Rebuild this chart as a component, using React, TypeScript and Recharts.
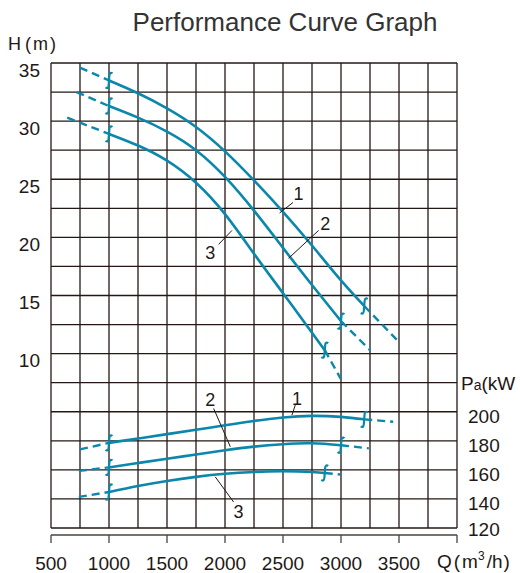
import { LineChart, Line, XAxis, YAxis, ReferenceLine, ReferenceDot } from "recharts";

const BLUE = "#0a87ab";
const INK = "#231815";
const FONT = '"Liberation Sans", Arial, "Noto Sans CJK SC", sans-serif';

// grid
const gridQ = [500, 750, 1000, 1250, 1500, 1750, 2000, 2250, 2500, 2750, 3000, 3250, 3500, 3750, 4000];
const gridH = [-5, -2.5, 0, 2.5, 5, 7.5, 10, 12.5, 15, 17.5, 20, 22.5, 25, 27.5, 30, 32.5, 35];
const qTicks = [500, 1000, 1500, 2000, 2500, 3000, 3500, 4000];
const hTicks = [10, 15, 20, 25, 30, 35];
const pTicks = [120, 140, 160, 180, 200];

// head H (m), curves 1..3
const qHead1 = [1000, 1250, 1500, 1750, 2000, 2250, 2500, 2750, 3000, 3200];
const head1 = [33.5, 32.4, 31.1, 29.5, 27.4, 24.9, 22.2, 19.3, 16.3, 14.1];
const qHead1Lo = [750, 1000];
const head1Lo = [34.6, 33.5];
const qHead1Hi = [3200, 3480];
const head1Hi = [14.1, 11.2];

const qHead2 = [1000, 1250, 1500, 1750, 2000, 2250, 2500, 2750, 3000];
const head2 = [31.3, 30.3, 29.1, 27.5, 25.2, 22.3, 19.1, 15.9, 12.8];
const qHead2Lo = [720, 1000];
const head2Lo = [32.5, 31.3];
const qHead2Hi = [3000, 3250];
const head2Hi = [12.8, 10.3];

const qHead3 = [1000, 1250, 1500, 1750, 2000, 2250, 2500, 2750, 2860];
const head3 = [28.9, 27.9, 26.6, 24.7, 22.0, 18.6, 15.2, 11.8, 10.3];
const qHead3Lo = [640, 1000];
const head3Lo = [30.3, 28.9];
const qHead3Hi = [2860, 3000];
const head3Hi = [10.3, 7.8];

// shaft power Pa (kW), curves 1..3
const qPow1 = [1000, 1250, 1500, 1750, 2000, 2250, 2500, 2750, 3000, 3200];
const pow1 = [178.6, 181.6, 184.6, 187.6, 190.7, 193.7, 196.1, 197.2, 196.5, 194.8];
const qPow1Lo = [750, 1000];
const pow1Lo = [174.1, 178.6];
const qPow1Hi = [3200, 3450];
const pow1Hi = [194.8, 193.1];

const qPow2 = [1000, 1250, 1500, 1750, 2000, 2250, 2500, 2750, 3000];
const pow2 = [161.7, 164.7, 167.7, 170.6, 173.5, 176.0, 177.7, 178.3, 177.0];
const qPow2Lo = [740, 1000];
const pow2Lo = [159.3, 161.7];
const qPow2Hi = [3000, 3240];
const pow2Hi = [177.0, 174.8];

const qPow3 = [1000, 1250, 1500, 1750, 2000, 2250, 2500, 2750, 2860];
const pow3 = [144.8, 148.9, 152.4, 155.2, 157.3, 158.6, 159.1, 158.6, 157.9];
const qPow3Lo = [740, 1000];
const pow3Lo = [141.4, 144.8];
const qPow3Hi = [2860, 3000];
const pow3Hi = [157.9, 156.8];

const pts = (qs: number[], vs: number[]) => qs.map((q, i) => ({ q, v: vs[i] }));

const curves = [
  { id: "h1", axis: "h", solid: pts(qHead1, head1), lo: pts(qHead1Lo, head1Lo), hi: pts(qHead1Hi, head1Hi) },
  { id: "h2", axis: "h", solid: pts(qHead2, head2), lo: pts(qHead2Lo, head2Lo), hi: pts(qHead2Hi, head2Hi) },
  { id: "h3", axis: "h", solid: pts(qHead3, head3), lo: pts(qHead3Lo, head3Lo), hi: pts(qHead3Hi, head3Hi) },
  { id: "p1", axis: "p", solid: pts(qPow1, pow1), lo: pts(qPow1Lo, pow1Lo), hi: pts(qPow1Hi, pow1Hi) },
  { id: "p2", axis: "p", solid: pts(qPow2, pow2), lo: pts(qPow2Lo, pow2Lo), hi: pts(qPow2Hi, pow2Hi) },
  { id: "p3", axis: "p", solid: pts(qPow3, pow3), lo: pts(qPow3Lo, pow3Lo), hi: pts(qPow3Hi, pow3Hi) },
];

// little "ʃ" marks at both ends of the working range
function endMark(p: any, count: number) {
  const { cx, cy, index } = p;
  if (index !== 0 && index !== count - 1) return <g key={`m-${index}`} />;
  return (
    <path
      key={`m-${index}`}
      d={`M ${cx + 3.5} ${cy - 7} Q ${cx + 0.5} ${cy - 9} ${cx + 0.3} ${cy - 4} L ${cx - 0.3} ${cy + 4} Q ${cx - 0.5} ${cy + 9} ${cx - 3.5} ${cy + 7}`}
      fill="none"
      stroke={BLUE}
      strokeWidth={2.2}
    />
  );
}

function HTick({ y, payload }: any) {
  return (
    <text x={40} y={y + 7} textAnchor="end" dominantBaseline="central" fontSize={19} fill={INK} fontFamily={FONT}>
      {payload.value}
    </text>
  );
}

function PTick({ y, payload }: any) {
  return (
    <text x={468} y={y + (payload.value === 120 ? 1 : 5)} textAnchor="start" dominantBaseline="central" fontSize={19} fill={INK} fontFamily={FONT}>
      {payload.value}
    </text>
  );
}

function QTick({ x, payload }: any) {
  if (payload.value === 4000) {
    return (
      <text x={x - 20} y={568} fontSize={19} fill={INK} fontFamily={FONT}>
        Q<tspan dx={2}>(</tspan>
        <tspan dx={2}>m</tspan>
        <tspan dy={-8} fontSize={12}>3</tspan>
        <tspan dy={8} dx={2}>/h</tspan>
        <tspan dx={1}>)</tspan>
      </text>
    );
  }
  return (
    <text x={x} y={570} textAnchor="middle" fontSize={19} fill={INK} fontFamily={FONT}>
      {payload.value}
    </text>
  );
}

const numLabel = (value: string) => ({ value, position: "center" as const, fontSize: 18, fill: INK, fontFamily: FONT });

export default function App() {
  return (
    <div style={{ position: "absolute", left: 0, top: 0, width: 520, height: 573, background: "#fff" }}>
      <svg width={520} height={573} style={{ position: "absolute", left: 0, top: 0 }}>
        <text x={285} y={31} textAnchor="middle" fontSize={26} fill="#333" fontFamily={FONT}>
          Performance Curve Graph
        </text>
        <text x={8} y={50} fontSize={18} fill={INK} fontFamily={FONT}>
          H<tspan dx={4}>(</tspan>
          <tspan dx={2}>m</tspan>
          <tspan dx={2}>)</tspan>
        </text>
        <text x={461} y={390} fontSize={19} fill={INK} fontFamily={FONT}>
          P<tspan fontSize={14}>a</tspan>
          <tspan>(kW</tspan>
        </text>
      </svg>
      <div style={{ position: "absolute", left: 0, top: 0 }}>
        <LineChart width={520} height={573} margin={{ top: 63, right: 0, bottom: 0, left: 0 }}>
          <XAxis
            type="number"
            dataKey="q"
            domain={[500, 4000]}
            ticks={qTicks}
            allowDataOverflow
            height={38}
            tickSize={8}
            axisLine={{ stroke: "#444", strokeWidth: 1.3 }}
            tickLine={{ stroke: "#444", strokeWidth: 1.3 }}
            tick={<QTick />}
            interval={0}
          />
          <YAxis
            yAxisId="h"
            domain={[-5.6, 35]}
            ticks={hTicks}
            allowDataOverflow
            width={51}
            axisLine={false}
            tickLine={false}
            tick={<HTick />}
            interval={0}
          />
          <YAxis
            yAxisId="p"
            orientation="right"
            domain={[115.2, 440]}
            ticks={pTicks}
            allowDataOverflow
            width={63}
            axisLine={false}
            tickLine={false}
            tick={<PTick />}
            interval={0}
          />

          {gridH.map((h) => (
            <ReferenceLine key={`gh-${h}`} yAxisId="h" y={h} stroke={INK} strokeWidth={1.3} />
          ))}
          {gridQ.map((q) => (
            <ReferenceLine
              key={`gq-${q}`}
              yAxisId="h"
              segment={[{ x: q, y: -5 }, { x: q, y: 35 }]}
              stroke={INK}
              strokeWidth={1.3}
            />
          ))}

          {curves.map((c) => (
            <Line
              key={`${c.id}-lo`}
              yAxisId={c.axis}
              data={c.lo}
              dataKey="v"
              type="linear"
              stroke={BLUE}
              strokeWidth={2.4}
              strokeDasharray="8 5"
              dot={false}
              activeDot={false}
              isAnimationActive={false}
            />
          ))}
          {curves.map((c) => (
            <Line
              key={`${c.id}-hi`}
              yAxisId={c.axis}
              data={c.hi}
              dataKey="v"
              type="linear"
              stroke={BLUE}
              strokeWidth={2.4}
              strokeDasharray="8 5"
              dot={false}
              activeDot={false}
              isAnimationActive={false}
            />
          ))}
          {curves.map((c) => (
            <Line
              key={`${c.id}-solid`}
              yAxisId={c.axis}
              data={c.solid}
              dataKey="v"
              type="natural"
              stroke={BLUE}
              strokeWidth={2.6}
              dot={(p: any) => endMark(p, c.solid.length)}
              activeDot={false}
              isAnimationActive={false}
            />
          ))}

          {/* curve numbers and leaders, head */}
          <ReferenceLine yAxisId="h" segment={[{ x: 2586, y: 23.0 }, { x: 2471, y: 22.1 }]} stroke={INK} strokeWidth={1} />
          <ReferenceDot yAxisId="h" x={2634} y={23.8} r={0} stroke="none" label={numLabel("1")} />
          <ReferenceLine yAxisId="h" segment={[{ x: 2807, y: 20.6 }, { x: 2548, y: 18.2 }]} stroke={INK} strokeWidth={1} />
          <ReferenceDot yAxisId="h" x={2865} y={21.2} r={0} stroke="none" label={numLabel("2")} />
          <ReferenceLine yAxisId="h" segment={[{ x: 1945, y: 19.4 }, { x: 2060, y: 20.6 }]} stroke={INK} strokeWidth={1} />
          <ReferenceDot yAxisId="h" x={1873} y={18.7} r={0} stroke="none" label={numLabel("3")} />

          {/* curve numbers and leaders, power */}
          <ReferenceLine yAxisId="p" segment={[{ x: 2606, y: 204.6 }, { x: 2577, y: 197.7 }]} stroke={INK} strokeWidth={1} />
          <ReferenceDot yAxisId="p" x={2620} y={209.2} r={0} stroke="none" label={numLabel("1")} />
          <ReferenceLine yAxisId="p" segment={[{ x: 1902, y: 202.3 }, { x: 2046, y: 175.9 }]} stroke={INK} strokeWidth={1} />
          <ReferenceDot yAxisId="p" x={1873} y={208.1} r={0} stroke="none" label={numLabel("2")} />
          <ReferenceLine yAxisId="p" segment={[{ x: 2074, y: 137.9 }, { x: 1916, y: 155.2 }]} stroke={INK} strokeWidth={1} />
          <ReferenceDot yAxisId="p" x={2117} y={131} r={0} stroke="none" label={numLabel("3")} />
        </LineChart>
      </div>
    </div>
  );
}
